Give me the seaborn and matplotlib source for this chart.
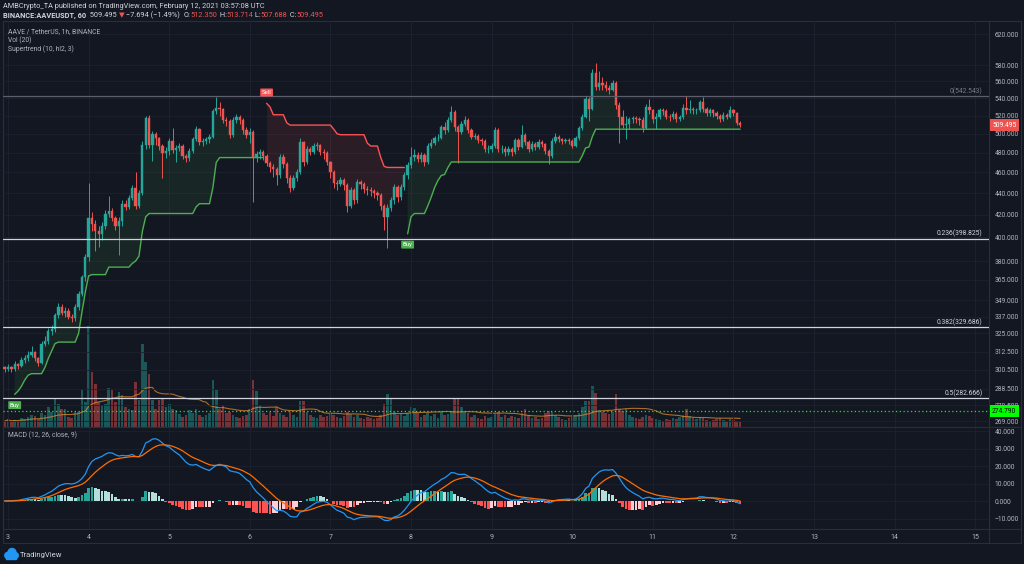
import numpy as np
import pandas as pd
import matplotlib
matplotlib.use("Agg")
import matplotlib.pyplot as plt
import seaborn as sns
from matplotlib.lines import Line2D
from matplotlib.patches import Ellipse, Rectangle
from matplotlib.ticker import NullLocator

W, H = 1024, 564

# ---- AAVE/USDT 1h candles (hour 0 = Feb 3 00:00) ----
first_hour = -1
first_open = 302.0

closes = [
    301, 302, 301, 304, 303, 307, 308, 310, 312, 308, 305,
    318, 320, 327, 328, 338, 344, 340, 341, 337, 336,
    344, 354, 367, 383, 417, 412, 405, 403, 410, 421,
    423, 417, 410, 414, 430, 427, 435, 445, 428, 440,
    488, 517, 488, 500, 495, 487, 480, 482, 492, 483,
    485, 487, 477, 475, 482, 494, 505, 491, 492, 494,
    497, 525, 529, 527, 515, 514, 499, 515, 519, 515,
    504, 499, 502, 476, 479, 481, 477, 469, 465, 463,
    457, 476, 468, 455, 445, 455, 460, 491, 470, 484,
    481, 487, 488, 481, 480, 470, 460, 450, 449, 453,
    448, 428, 443, 433, 451, 449, 444, 443, 442, 440,
    438, 428, 418, 426, 433, 446, 436, 446, 457, 467,
    476, 478, 474, 478, 470, 487, 490, 495, 496, 507,
    504, 515, 524, 507, 502, 511, 515, 504, 497, 498,
    493, 492, 484, 484, 487, 504, 484, 484, 481, 484,
    481, 493, 486, 499, 491, 484, 489, 486, 491, 489,
    482, 477, 492, 497, 494, 492, 493, 492, 487, 495,
    506, 519, 539, 528, 570, 553, 558, 555, 552, 550,
    558, 532, 519, 510, 511, 516, 517, 516, 515, 506,
    530, 526, 516, 519, 526, 525, 519, 518, 522, 516,
    518, 529, 526, 527, 526, 526, 535, 527, 523, 526,
    523, 520, 516, 521, 519, 526, 523, 512.35, 509.495,
]

highs = [
    303, 304, 303, 306, 305, 309, 310, 313, 316, 313, 309,
    320, 323, 329, 331, 340, 347, 346, 344, 343, 339,
    346, 356, 369, 386, 450, 422, 415, 410, 413, 424,
    437, 426, 419, 418, 433, 433, 438, 448, 460, 443,
    492, 520, 521, 503, 502, 497, 489, 486, 495, 506,
    488, 490, 489, 479, 485, 497, 508, 506, 495, 497,
    500, 528, 541, 535, 529, 518, 516, 518, 522, 521,
    517, 507, 506, 504, 482, 484, 483, 479, 472, 468,
    465, 479, 479, 470, 457, 457, 463, 496, 492, 487,
    486, 490, 491, 489, 484, 482, 472, 462, 453, 456,
    455, 450, 446, 445, 454, 453, 451, 447, 446, 444,
    442, 440, 430, 430, 436, 449, 448, 449, 460, 470,
    486, 484, 481, 481, 480, 490, 494, 498, 500, 510,
    513, 518, 531, 526, 510, 514, 520, 517, 506, 501,
    500, 496, 494, 488, 490, 507, 506, 488, 487, 487,
    486, 495, 495, 510, 501, 493, 492, 491, 494, 493,
    490, 484, 495, 501, 499, 496, 496, 495, 494, 498,
    509, 522, 543, 541, 575, 583, 572, 565, 560, 556,
    562, 560, 535, 526, 520, 519, 520, 520, 519, 518,
    533, 539, 528, 523, 529, 529, 527, 522, 525, 524,
    521, 533, 542, 538, 530, 529, 538, 541, 530, 529,
    528, 525, 522, 524, 523, 531, 527, 524, 513.714,
]

lows = [
    299, 300, 299, 300, 301, 302, 305, 306, 309, 306, 303,
    304, 316, 318, 324, 326, 336, 338, 337, 335, 333,
    334, 342, 352, 364, 380, 405, 388, 392, 398, 407,
    418, 414, 406, 385, 410, 424, 425, 433, 425, 426,
    438, 484, 485, 472, 488, 483, 455, 475, 478, 480,
    470, 482, 474, 470, 472, 480, 492, 488, 487, 489,
    490, 495, 522, 520, 512, 508, 495, 497, 512, 511,
    500, 496, 490, 432, 470, 474, 473, 466, 460, 456,
    448, 455, 464, 450, 441, 443, 452, 458, 466, 468,
    478, 479, 483, 478, 474, 467, 455, 445, 443, 447,
    443, 422, 426, 430, 431, 444, 440, 438, 437, 435,
    433, 424, 406, 391, 423, 430, 432, 433, 443, 454,
    464, 472, 470, 471, 466, 468, 485, 488, 492, 494,
    500, 502, 513, 503, 469, 500, 508, 501, 494, 494,
    490, 488, 481, 480, 481, 485, 481, 480, 477, 478,
    477, 479, 483, 485, 488, 481, 482, 483, 484, 486,
    479, 468, 475, 490, 491, 489, 490, 489, 485, 486,
    493, 504, 517, 514, 526, 550, 550, 550, 548, 545,
    548, 528, 490, 506, 494, 505, 512, 512, 510, 502,
    505, 522, 512, 505, 516, 521, 516, 514, 516, 513,
    514, 516, 522, 523, 522, 522, 524, 524, 520, 520,
    519, 516, 513, 514, 516, 517, 520, 510, 507.688,
]

volumes = [
    6, 8, 5, 7, 6, 9, 8, 10, 12, 11, 8,
    14, 12, 20, 15, 28, 23, 18, 18, 10, 9,
    15, 15, 37, 25, 101, 55, 43, 25, 22, 23,
    39, 37, 25, 35, 32, 20, 18, 17, 45, 27,
    83, 65, 53, 27, 18, 27, 28, 20, 23, 18,
    17, 13, 10, 12, 17, 14, 18, 12, 10, 12,
    14, 47, 37, 18, 22, 14, 15, 12, 10, 9,
    11, 12, 18, 47, 36, 22, 14, 12, 15, 11,
    20, 14, 12, 10, 15, 12, 10, 26, 26, 15,
    12, 10, 9, 12, 10, 11, 14, 12, 10, 9,
    11, 15, 13, 10, 12, 9, 8, 10, 9, 8,
    9, 12, 23, 33, 28, 15, 12, 13, 11, 14,
    20, 19, 14, 10, 12, 14, 11, 13, 9, 15,
    12, 13, 16, 28, 28, 20, 15, 14, 10, 12,
    9, 8, 11, 9, 10, 13, 15, 10, 12, 9,
    11, 10, 9, 14, 18, 12, 9, 10, 8, 9,
    14, 16, 15, 12, 10, 8, 7, 9, 10, 12,
    14, 20, 26, 26, 41, 34, 17, 15, 14, 13,
    15, 33, 18, 16, 18, 12, 10, 9, 8, 10,
    12, 11, 9, 8, 7, 6, 8, 7, 9, 8,
    10, 12, 18, 11, 9, 8, 10, 9, 7, 6,
    7, 8, 9, 7, 6, 8, 7, 6, 5,
]

nan = float("nan")
supertrend = [
    nan, nan, nan,
    285, 287, 290, 294, 297, 298, 298, 298, 298,
    302, 308, 313, 318, 319, 319, 319, 319, 319, 319,
    325, 340, 355, 368, 369, 369, 369, 369, 369,
    375, 375, 375, 375, 375, 375, 375,
    378, 380, 384, 405, 418,
    421, 421, 421, 421, 421, 421, 421, 421, 421, 421, 421, 421, 421, 421,
    427, 430, 430, 430, 430, 445, 470,
    475, 475, 475, 475, 475, 475, 475, 475, 475, 475, 475, 475, 475, 475,
    534, 530, 521, 521, 521, 521, 512,
    509.5, 509.5, 509.5, 509.5, 509.5, 509.5, 509.5, 509.5, 509.5, 509.5, 509.5, 509.5, 509.5,
    505, 500, 499, 499, 499, 499, 499, 499, 499, 499,
    490, 487, 487, 487, 475, 466, 465, 465, 465, 465, 465, 465,
    403, 418, 421, 421, 421, 421,
    428, 436, 445, 452, 457, 458, 465,
    470.5, 470.5, 470.5, 470.5, 470.5, 470.5, 470.5, 470.5, 470.5, 470.5,
    470.5, 470.5, 470.5, 470.5, 470.5, 470.5, 470.5, 470.5, 470.5, 470.5,
    470.5, 470.5, 470.5, 470.5, 470.5, 470.5, 470.5, 470.5, 470.5, 470.5,
    470.5, 470.5, 470.5, 470.5, 470.5, 470.5, 470.5, 470.5, 470.5,
    477, 485, 486, 497,
    505, 505, 505, 505, 505, 505, 505, 505, 505, 505, 505,
    505, 505, 505, 505, 505, 505, 505, 505, 505, 505, 505,
    505, 505, 505, 505, 505, 505, 505, 505, 505, 505, 505,
    505, 505, 505, 505, 505, 505, 505, 505, 505, 505, 505,
]

day_ticks = list(range(3, 16))
price_ticks = [620, 580, 560, 540, 520, 500, 480, 460, 440, 420, 400, 380,
               365, 349, 337, 325, 312.5, 300.5, 288.5, 278.5, 269]
macd_ticks = [40, 30, 20, 10, 0, -10]
fib_levels = [542.543, 398.825, 329.686, 282.666]
fib_names = ["0", "0.236", "0.382", "0.5"]
alert_price = 274.79
last_price = 509.495

header1 = "AMBCrypto_TA published on TradingView.com, February 12, 2021 03:57:08 UTC"
header2 = [("BINANCE:AAVEUSDT, 60", "w", "bold"), ("  509.495 ", "w", "normal"),
           ("▼", "r", "normal"), (" −7.694 (−1.49%)  ", "w", "normal"),
           ("O:", "w", "normal"), ("512.350", "r", "normal"),
           (" H:", "w", "normal"), ("513.714", "r", "normal"),
           (" L:", "w", "normal"), ("507.688", "r", "normal"),
           (" C:", "w", "normal"), ("509.495", "r", "normal")]

# ---- style ----
BG = "#131722"
GRID = "#1d2130"
FRAME = "#2a2e39"
TXT = "#b2b5be"
UP = "#26a69a"
DOWN = "#ef5350"

sns.set_theme(style="dark", rc={"axes.facecolor": BG, "figure.facecolor": BG,
                                "savefig.facecolor": BG, "text.color": TXT,
                                "xtick.color": TXT, "ytick.color": TXT})
plt.rcParams["font.family"] = ["Roboto", "DejaVu Sans"]

fig = plt.figure(figsize=(W / 100, H / 100), dpi=100)

def rect(x0, y0, x1, y1):
    return [x0 / W, 1 - y1 / H, (x1 - x0) / W, (y1 - y0) / H]

ax_v = fig.add_axes(rect(3, 21, 989, 427))
ax = fig.add_axes(rect(3, 21, 989, 427), sharex=ax_v)
ax_m = fig.add_axes(rect(3, 427, 989, 529), sharex=ax_v)
ax_v.set_zorder(1)
ax.set_zorder(2)
ax.patch.set_visible(False)

# ---- derived series ----
hours = np.arange(first_hour, first_hour + len(closes))
x = 3 + hours / 24
c = np.array(closes, dtype=float)
o = np.r_[first_open, c[:-1]]
hi = np.array(highs, dtype=float)
lo = np.array(lows, dtype=float)
col = np.where(c >= o, UP, DOWN)

# volume
ax_v.bar(x, volumes, width=0.78 / 24, color=col, alpha=0.45, lw=0)
vol_ma = pd.Series(volumes, dtype=float).rolling(20, min_periods=1).mean()
sns.lineplot(x=x, y=vol_ma.values, ax=ax_v, color="#e08a2c", lw=0.8, alpha=0.75)
ax_v.set_ylim(0, 406)
ax_v.set_yticks([])
ax_v.tick_params(labelbottom=False, length=0)
ax_v.grid(True, axis="x", color=GRID, lw=0.6)

# candles
ax.set_yscale("log")
ax.vlines(x, lo, hi, colors=col, lw=0.7, zorder=3)
b_lo = np.minimum(o, c)
b_hi = np.maximum(o, c)
ax.bar(x, b_hi - b_lo, bottom=b_lo, width=0.68 / 24, color=col, edgecolor=col,
       lw=0.3, zorder=4)

# supertrend
st = np.array(supertrend, dtype=float)
up = st < c
st_up = np.where(up, st, np.nan)
st_dn = np.where(~up & ~np.isnan(st), st, np.nan)
mid = (o + c) / 2
ax.fill_between(x, mid, st_up, where=~np.isnan(st_up), color="#4caf50", alpha=0.1, lw=0, zorder=2)
ax.fill_between(x, mid, st_dn, where=~np.isnan(st_dn), color="#ff5252", alpha=0.1, lw=0, zorder=2)
ax.plot(x, st_up, color="#4caf50", lw=1.0, zorder=3)
ax.plot(x, st_dn, color="#ff5252", lw=1.0, zorder=3)

state = np.where(np.isnan(st), 0, np.where(up, 1, -1))
for i in range(len(state)):
    prev = state[i - 1] if i else 0
    if state[i] != prev and state[i] != 0:
        buy = state[i] == 1
        ax.annotate("Buy" if buy else "Sell", xy=(x[i], st[i]),
                    xytext=(0, -6 if buy else 6), textcoords="offset points",
                    ha="center", va="top" if buy else "bottom", fontsize=4.3,
                    color="white", zorder=8,
                    bbox=dict(boxstyle="round,pad=0.25,rounding_size=0.15",
                              fc="#4caf50" if buy else "#ff5252", ec="none"))

# fib levels
for name, lvl in zip(fib_names, fib_levels):
    lc = "#5d606b" if name == "0" else "#d1d4dc"
    ax.axhline(lvl, color=lc, lw=0.9, zorder=5)
    ax.annotate(f"{name}({lvl:.3f})", xy=(1, lvl), xycoords=("axes fraction", "data"),
                xytext=(-4.5, 0.6), textcoords="offset points", ha="right", va="bottom",
                fontsize=4.9, color="#787b86" if name == "0" else "#d1d4dc", zorder=6)

ax.axhline(alert_price, color="#00ff00", lw=0.9, ls=(0, (1, 2)), zorder=5)

ax.set_xlim(3 - 5 / 80.6, 3 + 981 / 80.6)
ax.set_ylim(265.6, 637.8)
ax.yaxis.tick_right()
ax.yaxis.set_minor_locator(NullLocator())
ax.set_yticks(price_ticks)
ax.set_yticklabels([f"{t:.3f}" for t in price_ticks])
ax.set_xticks(day_ticks)
ax.tick_params(axis="y", length=0, pad=4, labelsize=4.9, labelcolor=TXT)
ax.tick_params(axis="x", labelbottom=False, length=0)
ax.grid(True, color=GRID, lw=0.6)

for val, fc, tc in [(last_price, "#ef5350", "white"), (alert_price, "#00ff00", "black")]:
    ax.annotate(f"{val:.3f}", xy=(1, val), xycoords=("axes fraction", "data"),
                xytext=(2.2, 0), textcoords="offset points", ha="left", va="center",
                fontsize=4.9, color=tc, annotation_clip=False, zorder=10,
                bbox=dict(boxstyle="square,pad=0.35", fc=fc, ec="none"))

# MACD (12, 26, close, 9)
cs = pd.Series(c)
macd = cs.ewm(span=12, adjust=False).mean() - cs.ewm(span=26, adjust=False).mean()
signal = macd.ewm(span=9, adjust=False).mean()
hist = (macd - signal).values
hprev = np.r_[0.0, hist[:-1]]
hcol = np.where(hist >= 0, np.where(hist > hprev, "#26a69a", "#b2dfdb"),
                np.where(hist > hprev, "#ffcdd2", "#ff5252"))
ax_m.bar(x, hist, width=0.8 / 24, color=hcol, lw=0)
sns.lineplot(x=x, y=macd.values, ax=ax_m, color="#2196f3", lw=0.9)
sns.lineplot(x=x, y=signal.values, ax=ax_m, color="#ff6d00", lw=0.9)
ax_m.set_ylim(-16.0, 42.3)
ax_m.yaxis.tick_right()
ax_m.set_yticks(macd_ticks)
ax_m.set_yticklabels([f"{t:.3f}".replace("-", "−") for t in macd_ticks])
ax_m.set_xticks(day_ticks)
ax_m.set_xticklabels([str(d) for d in day_ticks])
ax_m.tick_params(axis="y", length=0, pad=4, labelsize=4.9, labelcolor=TXT)
ax_m.tick_params(axis="x", length=0, pad=3.5, labelsize=5, labelcolor=TXT)
ax_m.grid(True, color=GRID, lw=0.6)

for a in (ax, ax_v, ax_m):
    for s in a.spines.values():
        s.set_visible(False)
    a.set_xlabel("")
    a.set_ylabel("")

# frame lines
def fline(x0, y0, x1, y1, color=FRAME, lw=0.8):
    fig.add_artist(Line2D([x0 / W, x1 / W], [1 - y0 / H, 1 - y1 / H], color=color, lw=lw))

fline(3, 21, 1021, 21)
fline(3, 543, 1021, 543)
fline(3, 21, 3, 543)
fline(1021, 21, 1021, 543)
fline(989, 21, 989, 543)
fline(3, 427, 1021, 427)
fline(3, 529, 1021, 529)

# texts
renderer = fig.canvas.get_renderer()
fig.text(3 / W, 1 - 6 / H, header1, fontsize=5.3, color="#d1d4dc", va="center")
xpos = 3
for s, k, wt in header2:
    t = fig.text(xpos / W, 1 - 15.5 / H, s, fontsize=5.3, fontweight=wt, va="center",
                 color="#ef5350" if k == "r" else "#d1d4dc")
    xpos += t.get_window_extent(renderer=renderer).width

for yy, s in [(32, "AAVE / TetherUS, 1h, BINANCE"), (40.5, "Vol (20)"),
              (49, "Supertrend (10, hl2, 3)"), (435, "MACD (12, 26, close, 9)")]:
    fig.text(8 / W, 1 - yy / H, s, fontsize=4.9, color=TXT, va="center")

# TradingView logo
for cx, cy, r in [(8, 555.5, 3.2), (12, 552.5, 4.0), (15.5, 555.5, 2.8)]:
    fig.add_artist(Ellipse((cx / W, 1 - cy / H), 2 * r / W, 2 * r / H, color="#2196f3"))
fig.add_artist(Rectangle((6 / W, 1 - 558.5 / H), 10 / W, 3.5 / H, color="#2196f3"))
fig.text(20 / W, 1 - 554.5 / H, "TradingView", fontsize=5.5, color="#d1d4dc", va="center")

fig.savefig("out.png", dpi=100, facecolor=BG)
